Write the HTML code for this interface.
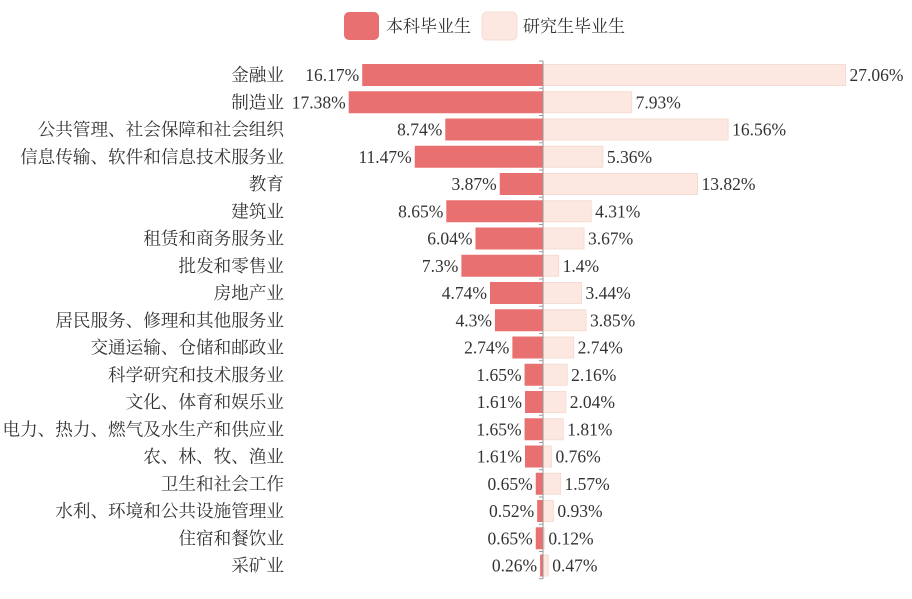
<!DOCTYPE html>
<html><head><meta charset="utf-8"><style>
body{margin:0;background:#fff;}
svg text{font-family:"Liberation Serif","Noto Serif CJK SC",serif;font-size:17.5px;fill:#333;}
svg text.cat{font-size:17.6px;}
</style></head><body>
<svg id="c" width="912" height="594">
<g>
<rect x="344" y="12" width="35" height="28" rx="5" fill="#e87070"/>
<text x="386" y="32" style="font-size:17px">本科毕业生</text>
<rect x="482" y="12" width="35" height="28" rx="5" fill="#fce8e0" stroke="#f6dcd2"/>
<text x="523" y="32" style="font-size:17px">研究生毕业生</text>
</g>
</svg>
<script>
const categories=["金融业","制造业","公共管理、社会保障和社会组织","信息传输、软件和信息技术服务业","教育","建筑业","租赁和商务服务业","批发和零售业","房地产业","居民服务、修理和其他服务业","交通运输、仓储和邮政业","科学研究和技术服务业","文化、体育和娱乐业","电力、热力、燃气及水生产和供应业","农、林、牧、渔业","卫生和社会工作","水利、环境和公共设施管理业","住宿和餐饮业","采矿业"];
const undergrad=[16.17,17.38,8.74,11.47,3.87,8.65,6.04,7.3,4.74,4.3,2.74,1.65,1.61,1.65,1.61,0.65,0.52,0.65,0.26];
const graduate=[27.06,7.93,16.56,5.36,13.82,4.31,3.67,1.4,3.44,3.85,2.74,2.16,2.04,1.81,0.76,1.57,0.93,0.12,0.47];
const svg=document.getElementById('c');const NS='http://www.w3.org/2000/svg';
const cx=543,scale=11.18,top0=61,step=27.25,bh=22;
const x=v=>v*scale, y=i=>top0+i*step;
function mk(t,a){const e=document.createElementNS(NS,t);for(const k in a)e.setAttribute(k,a[k]);svg.appendChild(e);return e;}
categories.forEach((c,i)=>{
 const yy=y(i)+3;
 let r=mk('rect',{x:cx-x(undergrad[i]),y:yy,width:x(undergrad[i]),height:bh,fill:'#e87070'});
 
 
 r=mk('rect',{x:cx,y:yy+0.5,width:x(graduate[i]),height:bh-1,fill:'#fce8e0',stroke:'#f6dcd2'});
 
 
 let t=mk('text',{x:cx-x(undergrad[i])-3,y:yy+17,'text-anchor':'end'});t.textContent=undergrad[i]+'%';
 
 
 t=mk('text',{x:cx+x(graduate[i])+4,y:yy+17});t.textContent=graduate[i]+'%';
 
 
 t=mk('text',{x:284,y:yy+17,'text-anchor':'end','class':'cat'});t.textContent=c;
 
 
});
let ax=mk('line',{x1:cx,x2:cx,y1:top0,y2:y(categories.length),stroke:'#999'});


for(let i=0;i<=categories.length;i++){
 const tk=mk('line',{x1:cx-4,x2:cx,y1:y(i),y2:y(i),stroke:'#999'});
 
 
}
</script>
</body></html>
